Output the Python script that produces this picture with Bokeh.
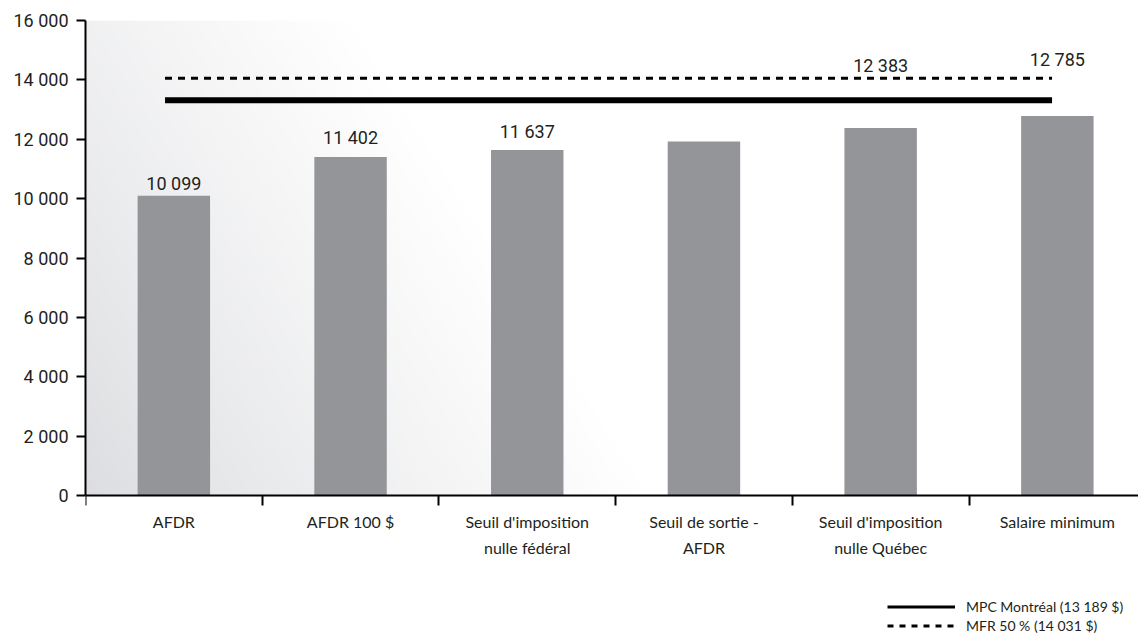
import numpy as np
from bokeh.plotting import figure
from bokeh.models import (ColumnDataSource, FixedTicker, Legend, LegendItem,
                          LinearAxis, Range1d)
from bokeh.core.properties import value
from bokeh.embed import file_html
from bokeh.resources import INLINE

# ---------------- data ----------------
categories = [["AFDR"], ["AFDR 100 $"], ["Seuil d'imposition", "nulle fédéral"],
              ["Seuil de sortie -", "AFDR"], ["Seuil d'imposition", "nulle Québec"],
              ["Salaire minimum"]]
bar_values = [10099, 11402, 11637, 11924, 12383, 12785]
value_labels = ["10 099", "11 402", "11 637", "", "12 383", "12 785"]
label_levels = [10510, 12060, 12260, None, 14480, 14690]
mpc_level = 13315   # solid line as drawn
mfr_level = 14057   # dashed line as drawn
legend_labels = ["MPC Montréal (13 189 $)", "MFR 50 % (14 031 $)"]
y_ticks = [0, 2000, 4000, 6000, 8000, 10000, 12000, 14000, 16000]
y_tick_labels = ["0", "2 000", "4 000", "6 000", "8 000", "10 000", "12 000", "14 000", "16 000"]

TEXT = "#231f20"
BAR = "#939598"
n = len(bar_values)
STEP_PX = 176.7
FRAME_W = 1138 - 85
X_END = FRAME_W / STEP_PX
Y_MAX = 16000
PX_PER_UNIT = 475.0 / Y_MAX
Y_MIN = -(636 - 495) / PX_PER_UNIT

p = figure(width=1138, height=636, output_backend="svg", toolbar_location=None,
           x_range=Range1d(0, X_END), y_range=Range1d(Y_MIN, Y_MAX),
           x_axis_location=None,
           min_border_left=85, min_border_right=0, min_border_top=20,
           min_border_bottom=0)
p.outline_line_color = None
p.grid.grid_line_color = None
p.background_fill_color = "white"
p.border_fill_color = "white"

# gradient background (style only)
nx, ny = 300, 200
xs = np.linspace(0, FRAME_W, nx)[None, :]
ys = np.linspace(0, 475, ny)[:, None]
t = np.clip((xs + 0.63 * ys) / 560.0, 0, 1)
t = t ** 0.85
r = (220 + (255 - 220) * t).astype(np.uint8)
g = (221 + (255 - 221) * t).astype(np.uint8)
b = (224 + (255 - 224) * t).astype(np.uint8)
img = np.empty((ny, nx), dtype=np.uint32)
view = img.view(dtype=np.uint8).reshape((ny, nx, 4))
view[..., 0] = r
view[..., 1] = g
view[..., 2] = b
view[..., 3] = 255
p.image_rgba(image=[img], x=0, y=0, dw=X_END, dh=Y_MAX, level="image")

# bars
centers = [i + 0.5 for i in range(n)]
src = ColumnDataSource(dict(x=centers, top=bar_values))
p.vbar(x="x", top="top", width=0.41, bottom=0, source=src, fill_color=BAR,
       line_color=None)

# reference lines
x0, x1 = 0.45, 5.47
p.segment(x0=[x0], x1=[x1], y0=[mpc_level], y1=[mpc_level],
          line_color="black", line_width=6)
p.segment(x0=[x0], x1=[x1], y0=[mfr_level], y1=[mfr_level],
          line_color="black", line_width=3, line_dash="7 6")

# value labels
lx, ly, lt = [], [], []
for c, lab, lev in zip(centers, value_labels, label_levels):
    if lab:
        lx.append(c); ly.append(lev); lt.append(lab)
p.text(x=lx, y=ly, text=lt, text_align="center", text_baseline="middle",
       text_font=value("Roboto"), text_font_size="18px", text_color=TEXT)

# y axis
p.yaxis.ticker = FixedTicker(ticks=y_ticks, minor_ticks=[])
p.yaxis.bounds = (0, Y_MAX)
p.yaxis.major_label_overrides = {tk: lb for tk, lb in zip(y_ticks, y_tick_labels)}
p.yaxis.major_label_text_font = "Roboto"
p.yaxis.major_label_text_font_size = "18px"
p.yaxis.major_label_text_color = TEXT
p.yaxis.major_tick_out = 9
p.yaxis.major_tick_in = 0
p.yaxis.major_tick_line_width = 2
p.yaxis.axis_line_width = 2
p.yaxis.major_label_standoff = 8

# x axis at y = 0 (ticks pointing down at category boundaries)
xaxis = LinearAxis(fixed_location=0,
                   ticker=FixedTicker(ticks=[], minor_ticks=list(range(n + 1))),
                   major_tick_out=0, major_tick_in=0,
                   minor_tick_out=0, minor_tick_in=10,
                   minor_tick_line_width=2, minor_tick_line_color="black",
                   axis_line_width=2)
p.add_layout(xaxis, "above")

# category labels (two lines, wide spacing)
line_levels = [-26 / PX_PER_UNIT, -52 / PX_PER_UNIT]
cx, cy, ct = [], [], []
for c, lines in zip(centers, categories):
    for k, txt in enumerate(lines):
        cx.append(c); cy.append(line_levels[k]); ct.append(txt)
p.text(x=cx, y=cy, text=ct, text_align="center", text_baseline="middle",
       text_font=value("Lato"), text_font_size="16px", text_color=TEXT)

# legend (sample lines drawn off-range so only the legend shows them)
d1 = p.line(x=[-3, -2], y=[0, 0], line_color="black", line_width=3)
d2 = p.line(x=[-3, -2], y=[0, 0], line_color="black", line_width=3,
            line_dash="6 6")
legend = Legend(items=[LegendItem(label=legend_labels[0], renderers=[d1]),
                       LegendItem(label=legend_labels[1], renderers=[d2])],
                location=(802, 1), orientation="vertical",
                glyph_width=68, glyph_height=19, label_height=19,
                label_standoff=11, spacing=0, padding=0, margin=0,
                border_line_color=None, background_fill_alpha=0,
                label_text_font="Lato", label_text_font_size="14px",
                label_text_color=TEXT, label_text_baseline="middle")
p.add_layout(legend, "center")

open("out.html", "w").write(file_html(p, INLINE))
